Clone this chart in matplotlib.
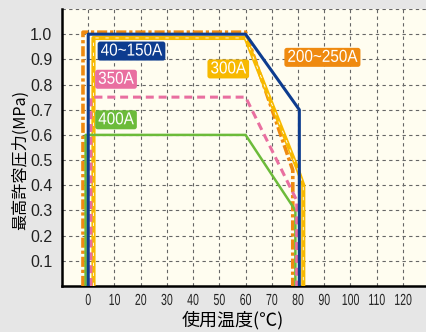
import matplotlib
matplotlib.use("Agg")
import matplotlib.pyplot as plt
import numpy as np
from matplotlib.patches import FancyBboxPatch
from matplotlib.patheffects import AbstractPathEffect
from matplotlib.path import Path
from matplotlib.transforms import Affine2D

plt.rcParams['font.family'] = ['Noto Sans CJK JP', 'DejaVu Sans']

# Temperature (deg C) / pressure (MPa) outlines for each size range
blue_x = [0, 0, 60, 80.5, 80.5]
blue_y = [0, 1.0, 1.0, 0.7, 0]
orange_x = [-2, -2, 60, 78, 78]
orange_y = [0, 1.008, 1.008, 0.46, 0]
yellow_x = [2, 2, 60, 80, 82, 82]
yellow_y = [0, 0.985, 0.985, 0.46, 0.40, 0]
pink_x = [1, 1, 60, 79.5, 79.5]
pink_y = [0, 0.75, 0.75, 0.34, 0]
green_x = [-1, -1, 60, 79, 79]
green_y = [0, 0.6, 0.6, 0.3, 0]

labels = ["40~150A", "350A", "400A", "300A", "200~250A"]
label_x = [16.5, 10.6, 10.6, 53.4, 89.3]
label_y = [0.933, 0.821, 0.660, 0.862, 0.908]

x_ticks = list(range(0, 130, 10))
y_ticks = [0.1, 0.2, 0.3, 0.4, 0.5, 0.6, 0.7, 0.8, 0.9, 1.0]

c_blue = "#0d3c8f"
c_orange = "#ef8a10"
c_yellow = "#f7b900"
c_pink = "#e96fa0"
c_green = "#6cbb3a"


class Squeeze(AbstractPathEffect):
    """Narrow the text horizontally around its centre (no condensed font here)."""

    def __init__(self, sx):
        super().__init__()
        self.sx = sx

    def draw_path(self, renderer, gc, tpath, affine, rgbFace=None):
        v = tpath.vertices
        if tpath.codes is not None:
            v = v[tpath.codes != Path.CLOSEPOLY]
        cx = (v[:, 0].min() + v[:, 0].max()) / 2 if len(v) else 0
        t = Affine2D().translate(-cx, 0).scale(self.sx, 1).translate(cx, 0) + affine
        renderer.draw_path(gc, tpath, t, rgbFace)


fig = plt.figure(figsize=(4.26, 3.32), dpi=100, facecolor="#e6e6e6")
ax = fig.add_axes([62 / 426, 46 / 332, 1 - 62 / 426, 277 / 332])
ax.set_facecolor("#fffdf0")

ax.set_xlim(-10, 128.8)
ax.set_ylim(0, 1.1)

# grid
for gx in range(0, 130, 10):
    ax.axvline(gx, color="#666666", lw=0.8, ls=(0, (3, 3)), zorder=1)
for gy in np.arange(0.1, 1.15, 0.1):
    ax.axhline(gy, color="#666666", lw=0.8, ls=(0, (3, 3)), zorder=1)

ax.plot(orange_x, orange_y, color=c_orange, lw=2.6, ls=(0, (2.8, 0.8, 0.9, 0.8)), zorder=3)
ax.plot(yellow_x, yellow_y, color=c_yellow, lw=3.0, zorder=3)
ax.plot(yellow_x, yellow_y, color="white", lw=0.6, ls=(0, (4, 8)), zorder=3)
ax.plot(green_x, green_y, color=c_green, lw=1.8, zorder=4)
ax.plot(pink_x, pink_y, color=c_pink, lw=2.2, ls=(0, (2.6, 1.6)), zorder=4)
ax.plot(blue_x, blue_y, color=c_blue, lw=2.2, zorder=5)

sx_lab = 0.88
label_colors = [c_blue, c_pink, c_green, c_yellow, c_orange]
label_texts = []
for t, lx, ly, c in zip(labels, label_x, label_y, label_colors):
    txt = ax.text(lx, ly, t, color="white", fontsize=12.5, ha="center", va="center",
                  family=['Liberation Sans', 'DejaVu Sans'], zorder=7)
    txt.set_path_effects([Squeeze(sx_lab)])
    label_texts.append((txt, c))

ax.set_xticks(x_ticks)
ax.set_xticklabels([str(v) for v in x_ticks], family=['Liberation Sans', 'DejaVu Sans'])
ax.set_yticks(y_ticks)
ax.set_yticklabels([f"{v:.1f}" for v in y_ticks], family=['Liberation Sans', 'DejaVu Sans'])
ax.tick_params(axis="both", length=0, labelsize=11.5, colors="#222222")
ax.tick_params(axis="x", pad=5, labelsize=11.5)
ax.tick_params(axis="y", pad=7)
for lab in ax.get_xticklabels():
    lab.set_path_effects([Squeeze(0.66)])

for s in ["top", "right"]:
    ax.spines[s].set_visible(False)
for s in ["left", "bottom"]:
    ax.spines[s].set_linewidth(1.8)
    ax.spines[s].set_color("black")

ax.set_xlabel("使用温度(℃)", fontsize=13, va="center")
ax.xaxis.set_label_coords(0.47, -0.123)
ax.set_ylabel("最高許容圧力(MPa)", fontsize=11.6, va="center")
ax.yaxis.set_label_coords(-0.115, 0.455)

# rounded label boxes sized to the squeezed text
fig.canvas.draw()
for txt, c in label_texts:
    bb = txt.get_window_extent()
    w = bb.width * sx_lab
    cx = (bb.x0 + bb.x1) / 2
    h = 19
    cy = (bb.y0 + bb.y1) / 2
    box = FancyBboxPatch((cx - w / 2 - 3, cy - h / 2), w + 6, h,
                         boxstyle="round,pad=0,rounding_size=2.5",
                         fc=c, ec="none", transform=None, zorder=6)
    ax.add_artist(box)

fig.savefig("out.png", dpi=100, facecolor=fig.get_facecolor())
